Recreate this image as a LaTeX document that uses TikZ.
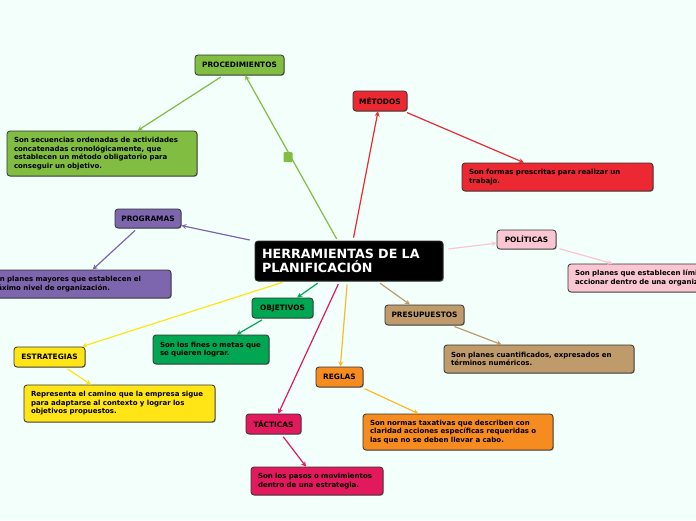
\documentclass[tikz,border=0pt]{standalone}
\usepackage{fontspec}
\setmainfont{DejaVu Sans}
\usetikzlibrary{arrows.meta,shadows}
\definecolor{bg}{RGB}{243,255,251}
\definecolor{cproc}{RGB}{128,189,65}
\definecolor{cmet}{RGB}{236,40,50}
\definecolor{cprog}{RGB}{125,102,173}
\definecolor{cpol}{RGB}{249,198,209}
\definecolor{cobj}{RGB}{0,166,81}
\definecolor{cpres}{RGB}{191,155,107}
\definecolor{cest}{RGB}{255,229,21}
\definecolor{creg}{RGB}{246,139,31}
\definecolor{cregl}{RGB}{253,185,42}
\definecolor{ctac}{RGB}{226,25,92}
\tikzset{
  box/.style={draw=black!80, line width=0.8pt, rounded corners=3pt,
    drop shadow={shadow xshift=0.8pt, shadow yshift=-0.8pt, opacity=0.35, fill=black},
    inner sep=0pt, text=black},
  lbl/.style={box, font=\bfseries\fontsize{7.4}{8.5}\selectfont, align=center, minimum height=20pt},
  desc/.style={box, font=\bfseries\fontsize{7}{8.5}\selectfont, align=left, inner xsep=7pt},
  conn/.style={line width=1.2pt, -{Stealth[length=5pt,width=5pt]}, shorten <=3pt},
}
\begin{document}
\begin{tikzpicture}[x=1pt,y=-1pt]
\fill[bg] (0,0) rectangle (696,520);
\useasboundingbox (0,0) rectangle (696,520);
\clip (0,0) rectangle (696,520);

% central
\node[box, fill=black, text=white, font=\bfseries\fontsize{12.7}{14}\selectfont, align=left,
  text width=174pt, inner xsep=7pt, minimum height=40pt] (c) at (349,261)
  {HERRAMIENTAS DE LA\\PLANIFICACIÓN};

% labels
\node[lbl, fill=cproc, minimum width=89pt] (proc) at (239.5,65) {PROCEDIMIENTOS};
\node[lbl, fill=cmet, minimum width=54pt] (met) at (380,101) {MÉTODOS};
\node[lbl, fill=cprog, minimum width=66pt, minimum height=19pt] (prog) at (148,218.5) {PROGRAMAS};
\node[lbl, fill=cpol, minimum width=59pt, minimum height=19pt] (pol) at (526.5,239.5) {POLÍTICAS};
\node[lbl, fill=cobj, minimum width=61pt] (obj) at (282.5,308) {OBJETIVOS};
\node[lbl, fill=cpres, minimum width=79pt] (pres) at (424.5,315) {PRESUPUESTOS};
\node[lbl, fill=cest, minimum width=71pt] (est) at (49.5,357) {ESTRATEGIAS};
\node[lbl, fill=creg, minimum width=47pt] (reg) at (339.5,377) {REGLAS};
\node[lbl, fill=ctac, minimum width=55pt] (tac) at (273.5,424) {TÁCTICAS};

% descriptions
\node[desc, fill=cproc, text width=176pt, minimum height=45pt] (procd) at (102,153.5)
  {Son secuencias ordenadas de actividades\\concatenadas cronológicamente, que\\establecen un método obligatorio para\\conseguir un objetivo.};
\node[desc, fill=cmet, text width=177pt, minimum height=28pt] (metd) at (557.5,177)
  {Son formas prescritas para realizar un\\trabajo.};
\node[desc, fill=cprog, text width=174pt, minimum height=28pt] (progd) at (77,284)
  {Son planes mayores que establecen el\\máximo nivel de organización.};
\node[desc, fill=cpol, text width=178pt, minimum height=28pt] (pold) at (664,278)
  {Son planes que establecen límites al\\accionar dentro de una organización.};
\node[desc, fill=cobj, text width=102pt, minimum height=29pt] (objd) at (211,349.5)
  {Son los fines o metas que\\se quieren lograr.};
\node[desc, fill=cpres, text width=176pt, minimum height=28pt] (presd) at (539,359)
  {Son planes cuantificados, expresados en\\términos numéricos.};
\node[desc, fill=cest, text width=177pt, minimum height=37pt] (estd) at (119.5,403.5)
  {Representa el camino que la empresa sigue\\para adaptarse al contexto y lograr los\\objetivos propuestos.};
\node[desc, fill=creg, text width=176pt, minimum height=36pt] (regd) at (458,432)
  {Son normas taxativas que describen con\\claridad acciones específicas requeridas o\\las que no se deben llevar a cabo.};
\node[desc, fill=ctac, text width=118pt, minimum height=28pt] (tacd) at (317,481)
  {Son los pasos o movimientos\\dentro de una estrategia.};

% connectors
\draw[conn, cproc, shorten <=2pt] (c) -- (proc);
\draw[conn, cproc] (proc) -- (procd);
\draw[conn, cmet] (c) -- (met);
\draw[conn, cmet] (met) -- (metd);
\draw[conn, cprog, shorten <=5pt] (c) -- (prog);
\draw[conn, cprog] (prog) -- (progd);
\draw[conn, cpol, shorten <=5pt] (c) -- (pol);
\draw[conn, cpol] (pol) -- (pold);
\draw[conn, cobj] (c) -- (obj);
\draw[conn, cobj] (obj) -- (objd);
\draw[conn, cpres] (c) -- (pres);
\draw[conn, cpres] (pres) -- (presd);
\draw[conn, cest] (c) -- (est);
\draw[conn, cest] (est) -- (estd);
\draw[conn, cregl] (c) -- (reg);
\draw[conn, cregl] (reg) -- (regd);
\draw[conn, ctac] (c) -- (tac);
\draw[conn, ctac] (tac) -- (tacd);

\node[fill=cproc, minimum width=9pt, minimum height=10pt, inner sep=0pt, rounded corners=1pt] (sq) at (288,157) {};
\end{tikzpicture}
\end{document}
